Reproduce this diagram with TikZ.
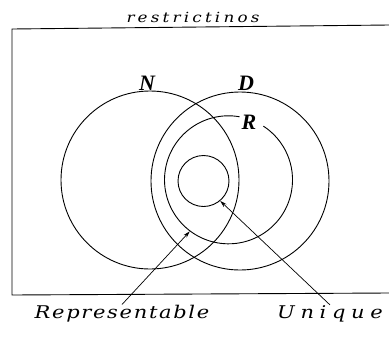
\documentclass[tikz,border=0pt]{standalone}
\usepackage{fontspec}
\usepackage{graphicx}
\setmainfont{Liberation Serif}
\newfontfamily\capfont{DejaVu Serif}
\newcommand{\widetext}[1]{\scalebox{1.2}[1]{#1}}
\usetikzlibrary{arrows.meta}

\begin{document}
\begin{tikzpicture}[x=1pt,y=-1pt,
  ring/.style={circle, draw, line width=0.9pt, inner sep=0pt},
  setname/.style={font=\fontsize{22}{22}\selectfont\bfseries\itshape, inner sep=0pt},
  caption/.style={anchor=base, inner sep=0pt},
  pointer/.style={line width=0.7pt, -{Stealth[length=7pt,width=4pt]}}]

\useasboundingbox (0,0) rectangle (389,341);

% Frame
\draw[line width=0.9pt] (389,25) -- (12,29) -- (12,295) -- (389,293);
\node[caption, font=\capfont\fontsize{14}{14}\selectfont\itshape\addfontfeature{LetterSpace=19}] (title) at (193,22) {\widetext{restrictinos}};

% Sets
\node[ring, minimum size=178pt] (nset) at (150,180) {};
\node[ring, minimum size=178pt] (dset) at (240,181) {};
\node[circle, inner sep=0pt, minimum size=128pt] (rset) at (228.5,180) {};
\draw[line width=0.9pt] (rset.80) arc[start angle=-80, end angle=-417, radius=64];
\node[ring, minimum size=51pt] (uset) at (203.5,181) {};

\node[setname] (nlab) at (147,83) {N};
\node[setname] (dlab) at (246,83) {D};
\node[setname] (rlab) at (249,122) {R};

% Captions with pointers
\node[caption, font=\capfont\fontsize{17.5}{17.5}\selectfont\itshape\addfontfeature{LetterSpace=8}] (rep) at (122,318) {\widetext{Representable}};
\node[caption, font=\capfont\fontsize{17.5}{17.5}\selectfont\itshape\addfontfeature{LetterSpace=27}] (uniq) at (330,318) {\widetext{Unique}};
\draw[pointer] (rep.north) -- (rset.233);
\draw[pointer] (uniq.north) -- (uset.-50);

\end{tikzpicture}
\end{document}
